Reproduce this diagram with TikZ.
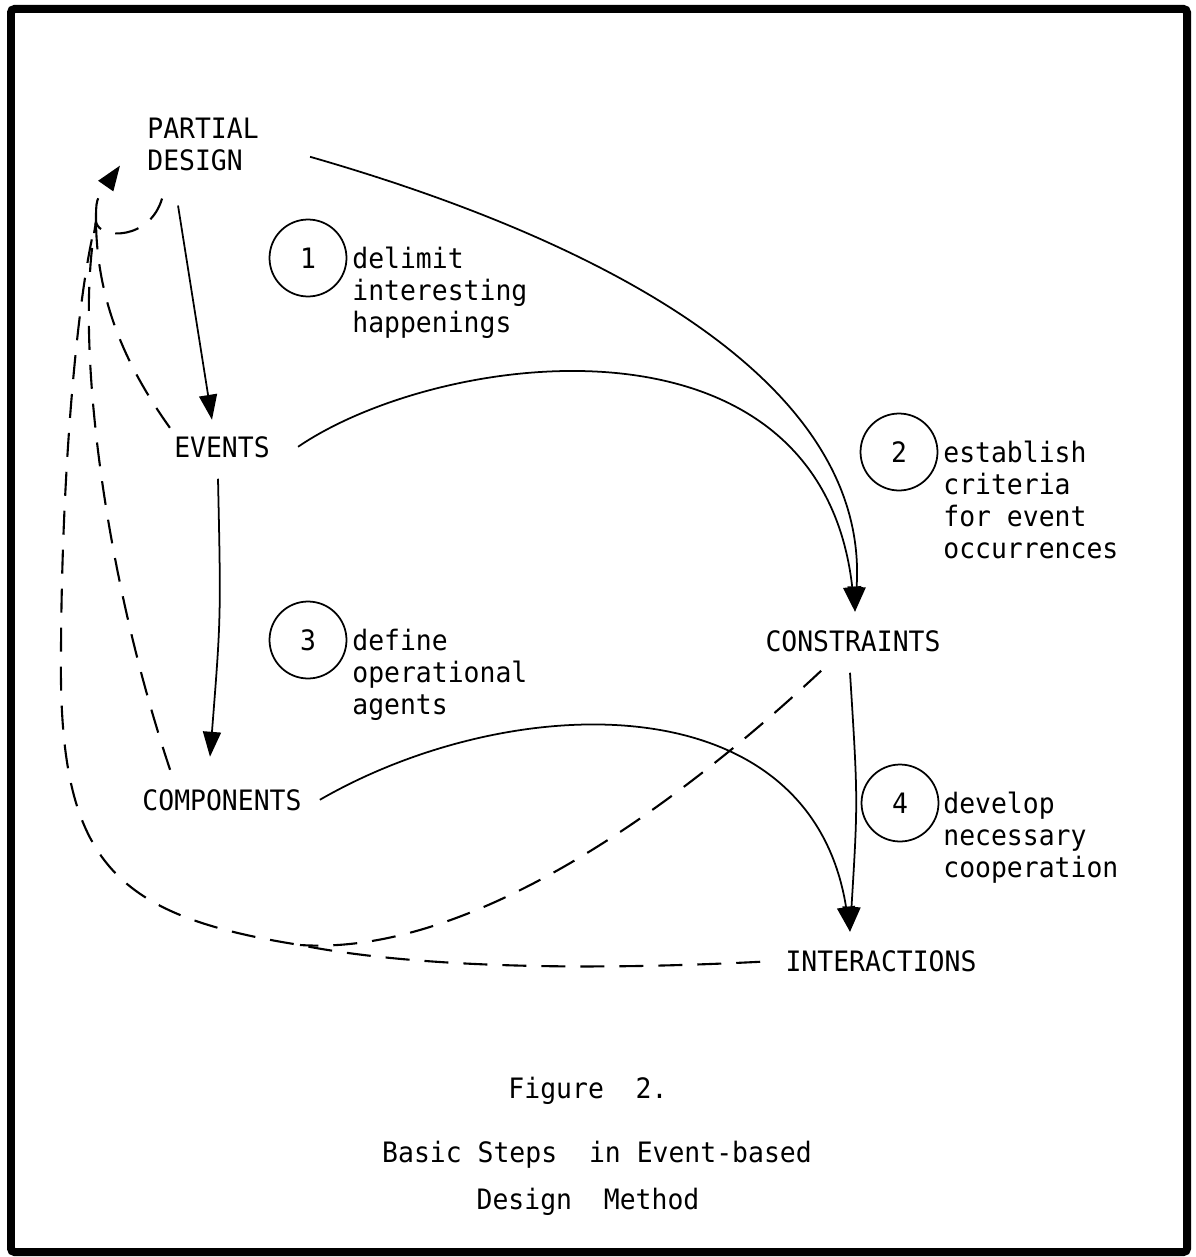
\documentclass[tikz,border=0pt]{standalone}
\usepackage{fontspec}
\usetikzlibrary{arrows.meta}
\newfontfamily\monofam[FakeStretch=0.94]{DejaVu Sans Mono}
\newcommand\figfont{\monofam\fontsize{16pt}{18.2pt}\selectfont}

\begin{document}
\begin{tikzpicture}[x=0.02cm, y=-0.02cm,
    every node/.style={font=\figfont, inner sep=0pt},
    word/.style={anchor=base},
    note/.style={anchor=north west, align=left},
    stepnum/.style={draw, circle, minimum size=1.54cm, line width=1pt},
    flow/.style={line width=1pt, -{Triangle[length=0.5cm,width=0.36cm]}},
    back/.style={line width=1.2pt, dash pattern=on 0.48cm off 0.3cm}]
  \useasboundingbox (0,0) rectangle (1196,1257);
  \draw[line width=0.16cm, rounded corners=2pt] (11,9) rectangle (1187,1252);

  % stages
  \node[note] (pd) at (147,118) {PARTIAL\\DESIGN};
  \node[word] (ev) at (222,457) {EVENTS};
  \node[word] (co) at (222,810) {COMPONENTS};
  \node[word] (cs) at (853,651) {CONSTRAINTS};
  \node[word] (ia) at (881,971) {INTERACTIONS};

  % numbered steps
  \node[stepnum] (s1) at (308,258) {1};
  \node[note] (t1) at (352,247) {delimit\\interesting\\happenings};
  \node[stepnum] (s2) at (899,452) {2};
  \node[note] (t2) at (943,441) {establish\\criteria\\for event\\occurrences};
  \node[stepnum] (s3) at (308,640) {3};
  \node[note] (t3) at (352,629) {define\\operational\\agents};
  \node[stepnum] (s4) at (900,803) {4};
  \node[note] (t4) at (943,792) {develop\\necessary\\cooperation};

  % caption
  \node[word] (fig) at (588,1098) {Figure\ \ 2.};
  \node[word] (cap1) at (597,1162) {Basic Steps\ \ in Event-based};
  \node[word] (cap2) at (588,1209) {Design\ \ Method};

  % forward steps
  \draw[flow] ([shift={(-25,34)}]pd.south) -- ([shift={(-10,-16)}]ev.north);
  \draw[flow] ([shift={(51,12)}]pd.east) .. controls (600,240) and (870,380) .. ([shift={(2,-18)}]cs.north);
  \draw[flow] ([shift={(28,0)}]ev.east) .. controls (440,350) and (820,300) .. ([shift={(2,-18)}]cs.north);
  \draw[flow] ([shift={(-4,21)}]ev.south) .. controls (221,617) .. ([shift={(-12,-32)}]co.north);
  \draw[flow] ([shift={(18,0)}]co.east) .. controls (510,690) and (810,680) .. ([shift={(-31,-18)}]ia.north);
  \draw[flow] ([shift={(-3,21)}]cs.south) .. controls (858,800) .. ([shift={(-31,-18)}]ia.north);

  % feedback to the partial design
  \coordinate (mg) at (96,222);
  \coordinate (jn) at (300,945);
  \draw[back, -{Triangle[length=0.5cm,width=0.36cm]}] (mg) .. controls (96,200) .. ([shift={(-27,-6)}]pd.south west);
  \draw[back] ([shift={(-41,27)}]pd.south) .. controls (150,240) and (100,240) .. (mg);
  \draw[back] ([shift={(-4,-8)}]ev.north west) .. controls (125,365) and (97,300) .. (mg);
  \draw[back] ([shift={(28,-19)}]co.north west) .. controls (100,560) and (75,330) .. (mg);
  \draw[back] ([shift={(-25,1)}]ia.west) .. controls (560,972) and (400,965) .. (jn)
        .. controls (110,915) and (58,860) .. (61,650)
        .. controls (62,450) and (80,280) .. (mg);
  \draw[back] ([shift={(56,19)}]cs.south west) .. controls (640,840) and (450,955) .. (jn);
\end{tikzpicture}
\end{document}
